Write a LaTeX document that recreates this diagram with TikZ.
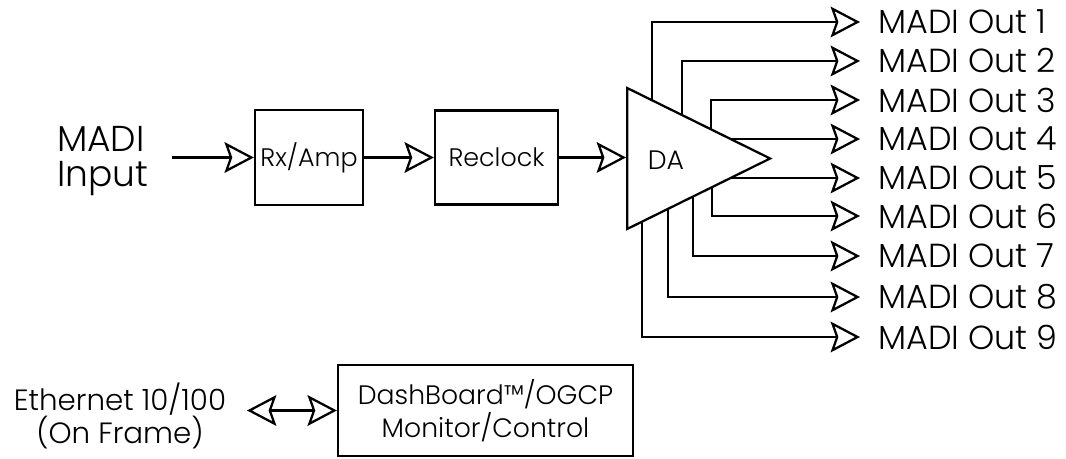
\documentclass[tikz,border=0pt]{standalone}
\usepackage{fontspec}
\setmainfont{Poppins Light}
\usetikzlibrary{arrows.meta,shapes.geometric}

\tikzset{
  blk/.style={draw, line width=1.7pt, inner sep=0pt, fill=white},
  outlbl/.style={anchor=west, inner sep=0pt, inner xsep=13pt, font=\fontsize{25}{28}\selectfont},
}

\begin{document}
\begin{tikzpicture}[x=0.75pt, y=-0.75pt, line width=1.7pt,
  >={Stealth[open, length=22pt, width=23pt, inset=4pt]}]
  \useasboundingbox (0,0) rectangle (1066,459);

  %% input chain
  \node[anchor=west, align=left, inner sep=0pt, font=\fontsize{27}{26}\selectfont] (madiin) at (56,161) {MADI\\Input};
  \coordinate (inport) at (172,157.5);
  \node[blk, minimum width=81pt, minimum height=71.25pt, font=\fontsize{19}{20}\selectfont] (rx) at (309,157.5) {Rx/Amp};
  \node[blk, minimum width=92.25pt, minimum height=70.5pt, font=\fontsize{19}{20}\selectfont] (rc) at (496.5,157.5) {Reclock};

  %% outputs
  \foreach \y [count=\k] in {22,61,100,139,178,216,256,297,337}
    \node[outlbl] (out\k) at (860,\y) {MADI Out \k};
  \foreach \x [count=\k] in {652,682,711,711,711,712,693,668,642}
    \draw[->] (\x,158) |- (out\k.west);

  %% DA, drawn over the output lines
  \node[blk, isosceles triangle, isosceles triangle stretches, minimum width=105.75pt, minimum height=107.25pt, anchor=west] (da) at (626,158.5) {};
  \node[font=\fontsize{20}{20}\selectfont, inner sep=0pt] (dalbl) at (666,160) {DA};

  \draw[->] (inport) -- (rx);
  \draw[->] (rx) -- (rc);
  \draw[->] (rc.east) -- (rc.east -| da.west);

  %% control
  \node[align=center, inner sep=0pt, font=\fontsize{22}{25}\selectfont] (eth) at (120,416) {Ethernet 10/100\\(On Frame)};
  \coordinate (ethport) at (247,410.5);
  \node[blk, align=center, minimum width=221.25pt, minimum height=68.25pt, font=\fontsize{20}{25}\selectfont] (dash) at (485.5,410.5) {DashBoard™/OGCP\\Monitor/Control};
  \draw[<->] (ethport) -- (dash);
\end{tikzpicture}
\end{document}
